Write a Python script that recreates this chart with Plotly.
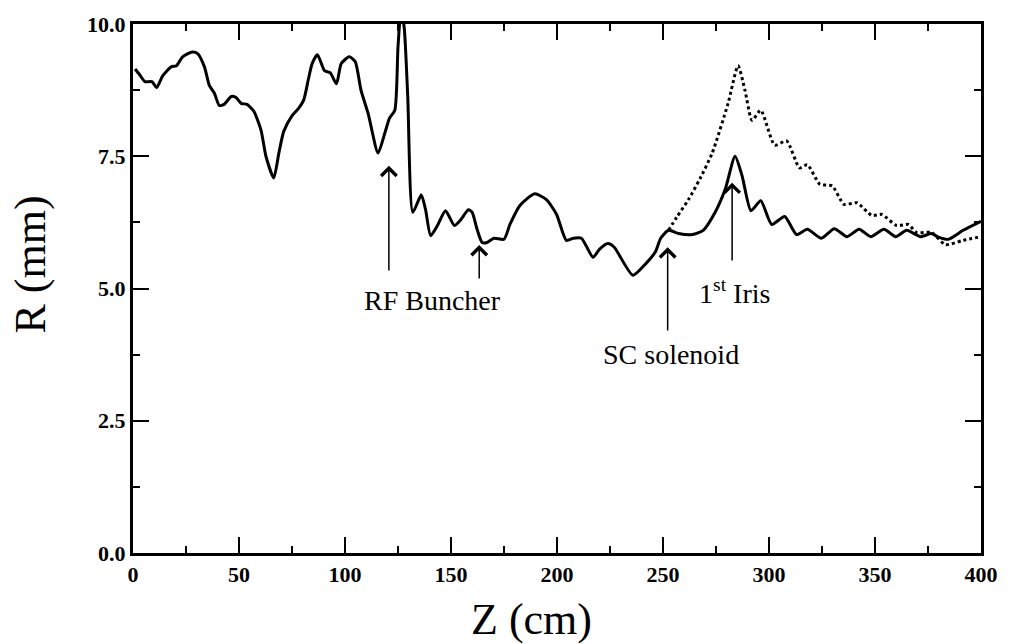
import plotly.graph_objects as go

# Solid curve (Z in cm, R in mm)
z_solid = [1.0, 3.0, 5.6, 8.9, 11.2, 14.0, 18.0, 20.5, 23.4, 28.0, 30.5, 33.7, 36.0, 38.4,
           40.7, 43.0, 46.3, 48.6, 51.0, 53.8, 57.0, 60.4, 62.7, 66.4, 68.8, 71.1, 74.9,
           78.0, 80.5, 82.8, 84.5, 87.0, 90.3, 93.0, 96.0, 98.2, 102.0, 104.8, 107.6,
           110.9, 115.6, 118.8, 121.0, 123.5, 125.0, 126.5, 128.0, 129.6, 132.0, 136.0,
           138.0, 140.4, 143.6, 147.4, 151.6, 154.4, 158.2, 160.0, 162.3, 164.7, 167.0,
           170.3, 175.0, 177.8, 182.5, 189.5, 195.0, 199.8, 204.4, 207.7, 211.5, 217.0,
           220.0, 224.0, 227.0, 235.8, 241.9, 246.5, 248.9, 252.6, 257.3, 263.9, 269.0,
           274.6, 279.3, 284.0, 287.3, 291.5, 296.1, 301.3, 307.4, 313.0, 318.1, 324.7,
           330.8, 336.8, 342.5, 348.0, 354.2, 359.8, 364.9, 371.5, 376.6, 379.9, 384.6,
           391.6, 400.0]
r_solid = [9.15, 9.05, 8.91, 8.91, 8.80, 9.02, 9.19, 9.21, 9.38, 9.47, 9.44, 9.19, 8.84, 8.69,
           8.46, 8.48, 8.63, 8.61, 8.50, 8.48, 8.35, 7.99, 7.50, 7.09, 7.56, 7.97, 8.26,
           8.40, 8.56, 8.97, 9.25, 9.42, 9.12, 9.08, 8.87, 9.25, 9.38, 9.29, 8.74,
           8.31, 7.56, 7.94, 8.22, 8.37, 9.57, 10.3, 9.90, 8.63, 6.44, 6.77,
           6.49, 6.00, 6.19, 6.47, 6.19, 6.29, 6.49, 6.44, 6.12, 5.87, 5.87,
           5.95, 5.93, 6.21, 6.57, 6.79, 6.68, 6.40, 5.91, 5.95, 5.95, 5.59,
           5.74, 5.85, 5.78, 5.25, 5.47, 5.70, 5.95, 6.10, 6.04, 6.02, 6.10,
           6.44, 6.87, 7.50, 7.13, 6.47, 6.66, 6.21, 6.36, 6.02, 6.12, 5.95,
           6.13, 5.98, 6.12, 5.98, 6.12, 5.98, 6.10, 5.98, 6.04, 5.97, 5.93,
           6.10, 6.27]

# Dotted curve
z_dot = [252.6, 256.5, 262.0, 267.5, 273.2, 280.7, 285.4, 288.7, 292.0, 296.1, 302.7, 308.3,
         314.4, 318.1, 324.0, 329.8, 335.4, 341.5, 348.5, 353.2, 360.2, 365.8, 369.6,
         376.6, 383.2, 391.6, 400.0]
r_dot = [6.10, 6.35, 6.68, 7.08, 7.56, 8.50, 9.21, 8.74, 8.18, 8.37, 7.71, 7.79,
         7.28, 7.34, 6.97, 6.94, 6.59, 6.62, 6.38, 6.40, 6.19, 6.21, 6.06,
         6.06, 5.83, 5.91, 5.98]

x_ticks = [0, 50, 100, 150, 200, 250, 300, 350, 400]
y_ticks = [0.0, 2.5, 5.0, 7.5, 10.0]

# Annotation arrows: (z, head R, tail R)
arrows = [(120.7, 7.32, 5.31), (163.3, 5.82, 5.16), (252.2, 5.78, 4.18), (282.6, 7.0, 5.5)]
labels = [("RF Buncher", 141.3, 4.78), ("SC solenoid", 254.0, 3.75), ("1<sup>st</sup> Iris", 283.5, 4.95)]

serif = "Liberation Serif"

fig = go.Figure()
fig.add_trace(go.Scatter(x=z_dot, y=r_dot, mode="lines",
                         line=dict(color="black", width=3, dash="dot", shape="spline", smoothing=0.6),
                         showlegend=False))
fig.add_trace(go.Scatter(x=z_solid, y=r_solid, mode="lines",
                         line=dict(color="black", width=3, shape="spline", smoothing=0.6),
                         showlegend=False))

annotations = []
for z, head, tail in arrows:
    annotations.append(dict(x=z, y=head, ax=z, ay=tail, xref="x", yref="y", axref="x", ayref="y",
                            text="", showarrow=True, arrowhead=4, arrowsize=2.0, arrowwidth=1.5,
                            arrowcolor="black"))
for txt, z, r in labels:
    annotations.append(dict(x=z, y=r, xref="x", yref="y", text=txt, showarrow=False,
                            xanchor="center", yanchor="middle",
                            font=dict(family=serif, size=28, color="black")))
annotations.append(dict(x=-0.121, y=0.546, xref="paper", yref="paper", text="R (mm)",
                        textangle=-90, showarrow=False, xanchor="center", yanchor="middle",
                        font=dict(family=serif, size=44, color="black")))
annotations.append(dict(x=0.470, y=-0.126, xref="paper", yref="paper", text="Z (cm)",
                        showarrow=False, xanchor="center", yanchor="middle",
                        font=dict(family=serif, size=44, color="black")))

axis_common = dict(showgrid=False, zeroline=False, showline=True, linecolor="black", linewidth=3,
                   mirror="ticks", ticks="inside", ticklen=16, tickwidth=2, tickcolor="black",
                   tickfont=dict(family=serif, size=22, color="black", weight="bold"))

fig.update_layout(
    width=1010, height=644,
    margin=dict(l=133, r=22, t=20, b=91),
    paper_bgcolor="white", plot_bgcolor="white",
    xaxis=dict(range=[0, 400], tickvals=x_ticks, ticktext=[str(v) for v in x_ticks],
               minor=dict(dtick=25, ticks="inside", ticklen=7, tickwidth=2, tickcolor="black"),
               **axis_common),
    yaxis=dict(range=[0, 10], tickvals=y_ticks, ticktext=[f"{v:.1f}" for v in y_ticks],
               minor=dict(dtick=1.25, ticks="inside", ticklen=7, tickwidth=2, tickcolor="black"),
               **axis_common),
    annotations=annotations,
)

fig.write_html("out.html")
